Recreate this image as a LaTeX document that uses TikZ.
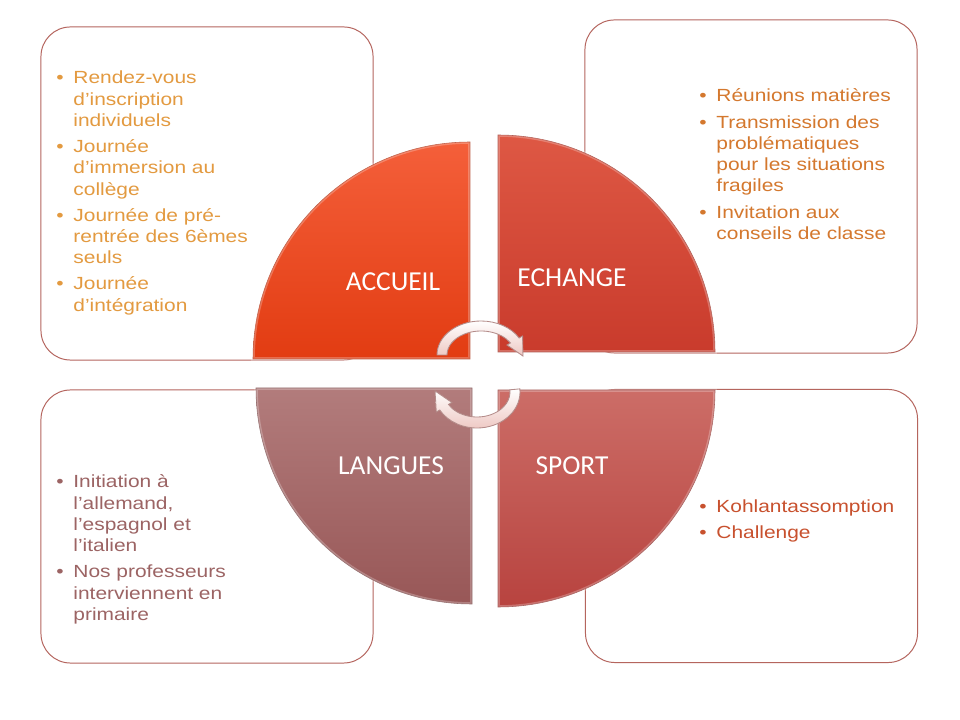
\documentclass[tikz,border=0pt]{standalone}
\usepackage{fontspec}
\setmainfont{Liberation Sans}[FakeStretch=1.19]
\newfontfamily\titlefont{Carlito}
\usepackage{tikz}
\usetikzlibrary{calc}

\definecolor{boxline}{HTML}{B5655E}
\definecolor{accueiltop}{HTML}{F45F3A}
\definecolor{accueilbot}{HTML}{E23C12}
\definecolor{echangetop}{HTML}{DE5844}
\definecolor{echangebot}{HTML}{C93B2C}
\definecolor{languestop}{HTML}{B27C7C}
\definecolor{languesbot}{HTML}{985757}
\definecolor{sporttop}{HTML}{CC6D67}
\definecolor{sportbot}{HTML}{B8433F}
\definecolor{accueiltxt}{HTML}{E39A40}
\definecolor{echangetxt}{HTML}{D4782E}
\definecolor{languestxt}{HTML}{9C6464}
\definecolor{sporttxt}{HTML}{C8512E}
\definecolor{arrowfill}{HTML}{EEC8C3}
\definecolor{arrowline}{HTML}{B48C8A}

\begin{document}
\begin{tikzpicture}[
    x=0.025cm, y=-0.025cm,
    box/.style={rectangle, draw=boxline, fill=white, rounded corners=21pt, minimum width=8.3cm, line width=0.7pt, inner sep=0pt},
    quarter/.style={line width=0.4pt, postaction={draw=white, draw opacity=0.25, line width=2.5pt}},
    title/.style={text=white, inner sep=0pt, font=\titlefont\fontsize{19.5}{23}\selectfont},
    items/.style={anchor=base west, inner sep=0pt, font=\fontsize{12.5}{15.1}\selectfont},
    cyc/.style={draw=arrowline, line width=0.6pt, top color=white, bottom color=arrowfill}
]
    \useasboundingbox[fill=white] (0,0) rectangle (960,720);

    % Text boxes
    \node[box, minimum height=8.325cm] (accueilbox) at (207,193.5) {};
    \node[box, minimum height=8.325cm] (echangebox) at (751,186.5) {};
    \node[box, minimum height=6.825cm] (languesbox) at (207,526.5) {};
    \node[box, minimum height=6.825cm] (sportbox) at (751.5,526) {};

    % Quarters
    \path[quarter, top color=accueiltop, bottom color=accueilbot, draw=accueilbot!75!black]
        (470,359) -- ++(-217,0) arc[start angle=180, end angle=270, radius=217] -- cycle;
    \path[quarter, top color=echangetop, bottom color=echangebot, draw=echangebot!75!black]
        (498,352) -- ++(217,0) arc[start angle=0, end angle=-90, radius=217] -- cycle;
    \path[quarter, top color=languestop, bottom color=languesbot, draw=languesbot!75!black]
        (472,388) -- ++(-216,0) arc[start angle=180, end angle=90, radius=216] -- cycle;
    \path[quarter, top color=sporttop, bottom color=sportbot, draw=sportbot!75!black]
        (498,390) -- ++(217,0) arc[start angle=0, end angle=90, radius=217] -- cycle;

    \node[title] (accueil) at (393,282) {ACCUEIL};
    \node[title] (echange) at (572,278) {ECHANGE};
    \node[title] (langues) at (391,466) {LANGUES};
    \node[title] (sport) at (572,466) {SPORT};

    % Cycle arrows
    \coordinate (c1) at (481,355);
    \coordinate (c2) at (477,392);
    \path[cyc] ($(c1)+(180:44 and 34)$) arc[start angle=180, end angle=330, x radius=44, y radius=34]
        -- ($(c1)+(330:48 and 38)$) -- ($(c1)+(2:42 and 29)$) -- ($(c1)+(330:30 and 20)$)
        -- ($(c1)+(330:34 and 24)$) arc[start angle=330, end angle=180, x radius=34, y radius=24] -- cycle;
    \path[cyc] ($(c2)+(-5:43 and 36)$) arc[start angle=-5, end angle=150, x radius=43, y radius=36]
        -- ($(c2)+(150:47 and 40)$) -- ($(c2)+(182:42 and 30)$) -- ($(c2)+(150:29 and 21)$)
        -- ($(c2)+(150:33 and 25)$) arc[start angle=150, end angle=-5, x radius=33, y radius=25] -- cycle;

    % Lists
    \node[items, text=accueiltxt] (accueillist) at (56,84) {%
        \begin{tabular}[t]{@{}l@{\hspace{7pt}}l@{}}
        • & Rendez-vous\\ & d’inscription\\ & individuels\\[3.5pt]
        • & Journée\\ & d’immersion au\\ & collège\\[3.5pt]
        • & Journée de pré-\\ & rentrée des 6èmes\\ & seuls\\[3.5pt]
        • & Journée\\ & d’intégration
        \end{tabular}};
    \node[items, text=echangetxt] (echangelist) at (699,102) {%
        \begin{tabular}[t]{@{}l@{\hspace{7pt}}l@{}}
        • & Réunions matières\\[3.5pt]
        • & Transmission des\\ & problématiques\\ & pour les situations\\ & fragiles\\[3.5pt]
        • & Invitation aux\\ & conseils de classe
        \end{tabular}};
    \node[items, text=languestxt] (langueslist) at (56,488) {%
        \begin{tabular}[t]{@{}l@{\hspace{7pt}}l@{}}
        • & Initiation à\\ & l’allemand,\\ & l’espagnol et\\ & l’italien\\[3.5pt]
        • & Nos professeurs\\ & interviennent en\\ & primaire
        \end{tabular}};
    \node[items, text=sporttxt] (sportlist) at (699,513) {%
        \begin{tabular}[t]{@{}l@{\hspace{7pt}}l@{}}
        • & Kohlantassomption\\[3pt]
        • & Challenge
        \end{tabular}};
\end{tikzpicture}
\end{document}
